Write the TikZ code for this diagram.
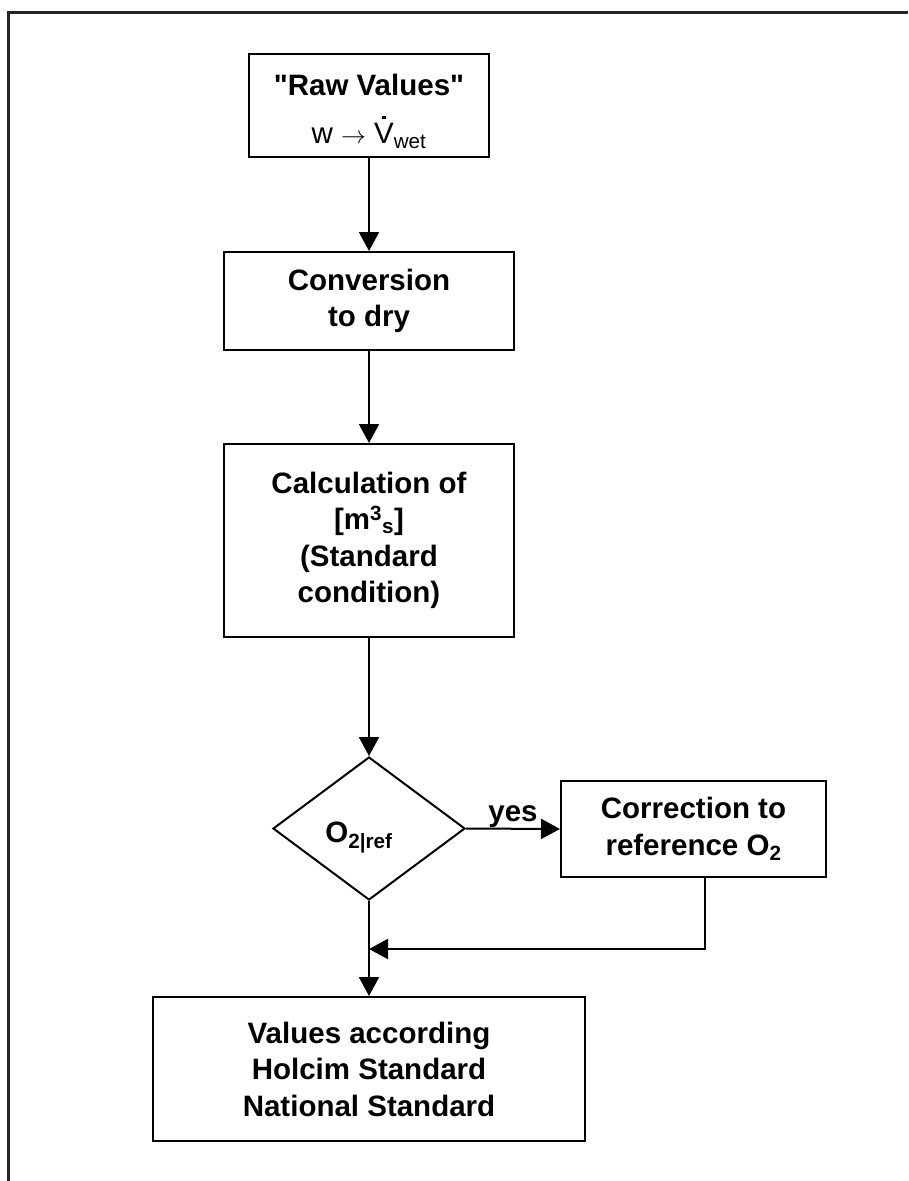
\documentclass[tikz,border=0pt]{standalone}
\usepackage{fontspec}
\setmainfont{Liberation Sans}
\usetikzlibrary{shapes.geometric,arrows.meta}

\newcommand{\flowdotV}{\ooalign{V\cr\hidewidth\raisebox{0.82em}{\rule{3.2pt}{3.2pt}}\hidewidth\cr}}

\begin{document}
\begin{tikzpicture}[x=1pt, y=-1pt, line width=2pt,
    >={Triangle[length=19pt,width=20pt]},
    flowtext/.style={font=\fontsize{29.5}{36.5}\selectfont\bfseries},
    box/.style={draw, rectangle, align=center, inner sep=0pt, flowtext},
    decision/.style={draw, diamond, inner sep=0pt, flowtext, minimum width=192pt, minimum height=143pt}]
    \useasboundingbox (0,0) rectangle (908,1181);

    % frame
    \draw[line width=2.5pt, black!85] (8.7,1181) -- (8.7,12.7) -- (908,12.7);

    \node[box, minimum width=240pt, minimum height=103pt] (raw) at (369,105.5)
        {\rule{0pt}{33pt}\textquotedbl Raw Values\textquotedbl\\[11pt] {\mdseries w $\rightarrow$ \flowdotV\textsubscript{wet}}};
    \node[box, minimum width=290pt, minimum height=98pt] (dry) at (369,301)
        {Conversion\\to dry};
    \node[box, minimum width=290pt, minimum height=193pt] (calc) at (369,540.5)
        {Calculation of\\{}[m\textsuperscript{3}\textsubscript{s}]\\(Standard\\condition)};
    \node[decision] (ref) at (369,828.5) {\raisebox{-9pt}[\height][\depth]{O\textsubscript{2|ref}}\hspace*{20pt}};
    \node[box, minimum width=265pt, minimum height=96pt] (corr) at (693.5,829)
        {Correction to\\reference O\textsubscript{2}};
    \node[box, minimum width=432pt, minimum height=144pt] (values) at (369,1069)
        {Values according\\Holcim Standard\\National Standard};

    \coordinate (join) at (369,949);

    \draw[->] (raw) -- (dry);
    \draw[->] (dry) -- (calc);
    \draw[->] (calc) -- (ref);
    \draw[->] (ref.east) -- (corr.west) node[midway, anchor=base, yshift=7pt, flowtext] {yes};
    \draw[->] ([xshift=11.5pt]corr.south) |- (join);
    \draw[->] (ref.south) -- (values.north);
\end{tikzpicture}
\end{document}
